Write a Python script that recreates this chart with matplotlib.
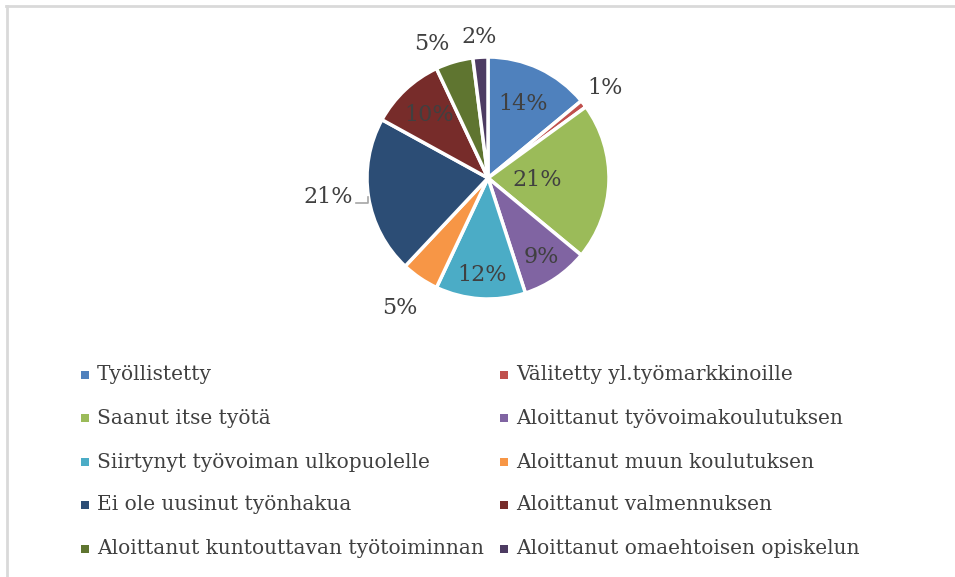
import numpy as np
import matplotlib.pyplot as plt
from matplotlib.patches import Rectangle

# data
categories = [
    "Työllistetty",
    "Välitetty yl.työmarkkinoille",
    "Saanut itse työtä",
    "Aloittanut työvoimakoulutuksen",
    "Siirtynyt työvoiman ulkopuolelle",
    "Aloittanut muun koulutuksen",
    "Ei ole uusinut työnhakua",
    "Aloittanut valmennuksen",
    "Aloittanut kuntouttavan työtoiminnan",
    "Aloittanut omaehtoisen opiskelun",
]
shares = [14, 1, 21, 9, 12, 5, 21, 10, 5, 2]
pct_labels = ["14%", "1%", "21%", "9%", "12%", "5%", "21%", "10%", "5%", "2%"]

# styling / layout
colors = ["#4F81BD", "#C0504D", "#9BBB59", "#8064A2", "#4BACC6",
          "#F79646", "#2C4D75", "#772C2A", "#5F7530", "#4D3B62"]
label_r = [0.68, 1.22, 0.41, 0.79, 0.80, 1.30, 1.37, 0.71, 1.15, 1.17]
label_ha = ["center"] * 10
label_ha[8] = "right"
leader_idx = 6  # the one label drawn with a leader line
text_col = "#404040"
font = "DejaVu Serif"

W, H = 955, 577
fig = plt.figure(figsize=(W / 100, H / 100), dpi=100)
fig.patch.set_facecolor("white")

# chart frame (top and left edges visible)
fig.add_artist(plt.Line2D([6 / W, 1], [1 - 6 / H, 1 - 6 / H], color="#D9D9D9", lw=2))
fig.add_artist(plt.Line2D([7 / W, 7 / W], [0, 1 - 6 / H], color="#D9D9D9", lw=2))

cx, cy, r = 488, 178, 121
ax = fig.add_axes([(cx - r) / W, 1 - (cy + r) / H, 2 * r / W, 2 * r / H])
wedges, _ = ax.pie(shares, colors=colors, startangle=90, counterclock=False,
                   radius=1.0, wedgeprops=dict(edgecolor="white", linewidth=2.5))
ax.set_xlim(-1, 1)
ax.set_ylim(-1, 1)
ax.set_aspect("equal")
ax.axis("off")

for i, w in enumerate(wedges):
    mid = np.deg2rad((w.theta1 + w.theta2) / 2)
    if i == leader_idx:
        ex, ey = np.cos(mid), np.sin(mid)
        ly = ey - 0.05
        ax.plot([ex, ex, ex - 0.1], [ey, ly, ly],
                color="#A6A6A6", lw=1.2, clip_on=False)
        ax.text(ex - 0.13, ly, pct_labels[i], ha="right", va="baseline",
                fontsize=16, family=font, color=text_col, clip_on=False)
        continue
    x, y = label_r[i] * np.cos(mid), label_r[i] * np.sin(mid)
    ax.text(x, y, pct_labels[i], ha=label_ha[i], va="center", fontsize=16,
            family=font, color=text_col, clip_on=False)

# legend, two columns filled row-wise
col_x = [85, 504]
row_y = [375, 418, 462, 505, 549]
for i, name in enumerate(categories):
    row, col = divmod(i, 2)
    mx, my = col_x[col], row_y[row]
    fig.add_artist(Rectangle(((mx - 4) / W, 1 - (my + 4) / H), 8 / W, 8 / H,
                             facecolor=colors[i], edgecolor="none",
                             transform=fig.transFigure))
    fig.text((mx + 12) / W, 1 - my / H, name, ha="left", va="center",
             fontsize=14.5, family=font, color=text_col)

fig.savefig("out.png", dpi=100)
